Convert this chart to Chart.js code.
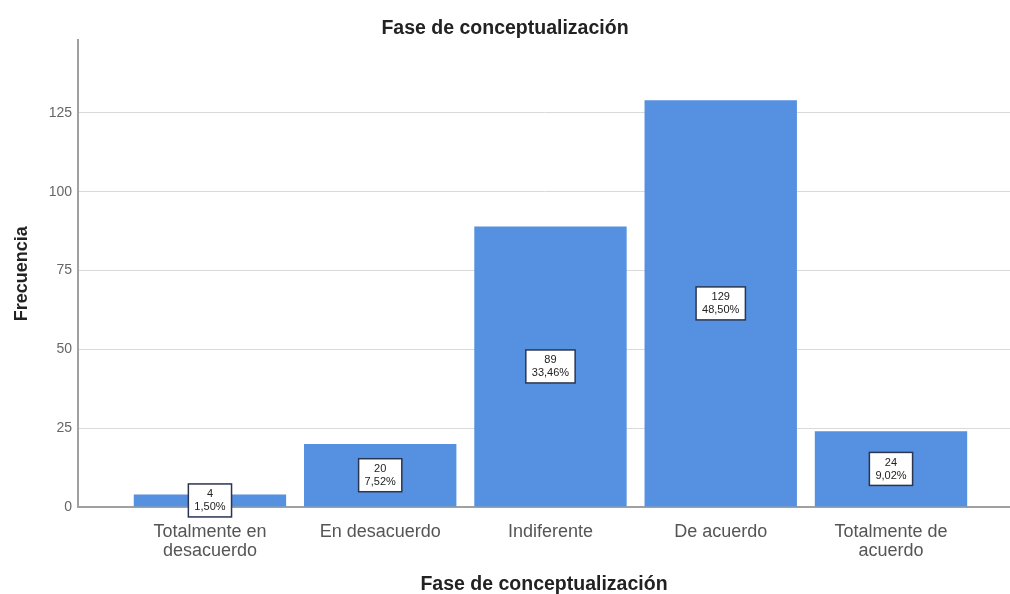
<!DOCTYPE html>
<html>
<head>
<meta charset="utf-8">
<script src="https://cdn.jsdelivr.net/npm/chart.js@4"></script>
<style>
  html, body { margin: 0; padding: 0; background: #fff; }
  #wrap { width: 1010px; height: 594px; }
</style>
</head>
<body>
<div id="wrap"><canvas id="chart"></canvas></div>
<script>
// datos del grafico
var categorias = [['Totalmente en', 'desacuerdo'], 'En desacuerdo', 'Indiferente', 'De acuerdo', ['Totalmente de', 'acuerdo']];
var frecuencias = [4, 20, 89, 129, 24];
var porcentajes = ['1,50%', '7,52%', '33,46%', '48,50%', '9,02%'];
var yTicks = [0, 25, 50, 75, 100, 125];

var fuente = '"Liberation Sans", Arial, sans-serif';

// etiquetas en cajas blancas en el centro de cada barra
var cajas = {
	id: 'cajas',
	afterDatasetsDraw: function(chart) {
		var ctx = chart.ctx;
		var meta = chart.getDatasetMeta(0);
		ctx.save();
		ctx.font = '11px ' + fuente;
		ctx.textAlign = 'center';
		ctx.textBaseline = 'middle';
		meta.data.forEach(function(bar, i) {
			var l1 = String(frecuencias[i]);
			var l2 = porcentajes[i];
			var w = Math.max(ctx.measureText(l1).width, ctx.measureText(l2).width) + 12;
			var h = 33;
			var cy = (bar.y + bar.base) / 2;
			ctx.fillStyle = '#ffffff';
			ctx.fillRect(bar.x - w / 2, cy - h / 2, w, h);
			ctx.strokeStyle = '#2a3550';
			ctx.lineWidth = 1.5;
			ctx.strokeRect(bar.x - w / 2, cy - h / 2, w, h);
			ctx.fillStyle = '#222';
			ctx.fillText(l1, bar.x, cy - 6);
			ctx.fillText(l2, bar.x, cy + 7);
		});
		ctx.restore();
	}
};

var datos = frecuencias.map(function(v, i) { return {x: i, y: v}; });

new Chart(document.getElementById('chart'), {
	type: 'bar',
	data: {
		datasets: [{
			data: datos,
			backgroundColor: '#5591e0',
			borderWidth: 0,
			barPercentage: 0.895,
			categoryPercentage: 1
		}]
	},
	options: {
		responsive: true,
		maintainAspectRatio: false,
		animation: false,
		layout: { padding: 0 },
		plugins: {
			legend: { display: false },
			tooltip: { enabled: false },
			title: {
				display: true,
				text: 'Fase de conceptualización',
				color: '#222',
				font: { family: fuente, size: 19.5, weight: 'bold', lineHeight: 1.2 },
				padding: { top: 17, bottom: 0 }
			}
		},
		scales: {
			x: {
				type: 'linear',
				offset: false,
				bounds: 'data',
				min: -0.775,
				max: 4.699,
				grid: { display: false, offset: false },
				border: { display: true, color: '#a0a0a0', width: 2 },
				afterBuildTicks: function(scale) {
					scale.ticks = categorias.map(function(c, i) { return {value: i}; });
				},
				afterFit: function(scale) { scale.height = 87; },
				ticks: {
					color: '#555',
					padding: 8,
					autoSkip: false,
					maxRotation: 0,
					font: { family: fuente, size: 18, lineHeight: 1.05 },
					callback: function(v, i) { return categorias[i]; }
				},
				title: {
					display: true,
					text: 'Fase de conceptualización',
					color: '#222',
					font: { family: fuente, size: 19.5, weight: 'bold', lineHeight: 1 },
					padding: { top: 0, bottom: 0 }
				}
			},
			y: {
				min: 0,
				max: 148,
				afterBuildTicks: function(scale) {
					scale.ticks = yTicks.map(function(v) { return {value: v}; });
				},
				afterFit: function(scale) { scale.width = 78; },
				grid: { color: '#d9d9d9', lineWidth: 1, drawTicks: false },
				border: { display: true, color: '#a0a0a0', width: 2 },
				ticks: {
					color: '#666',
					padding: 6,
					font: { family: fuente, size: 14 }
				},
				title: {
					display: true,
					text: 'Frecuencia',
					color: '#222',
					font: { family: fuente, size: 18, weight: 'bold', lineHeight: 1 },
					padding: { top: 13, bottom: 0 }
				}
			}
		}
	},
	plugins: [cajas]
});
</script>
</body>
</html>
